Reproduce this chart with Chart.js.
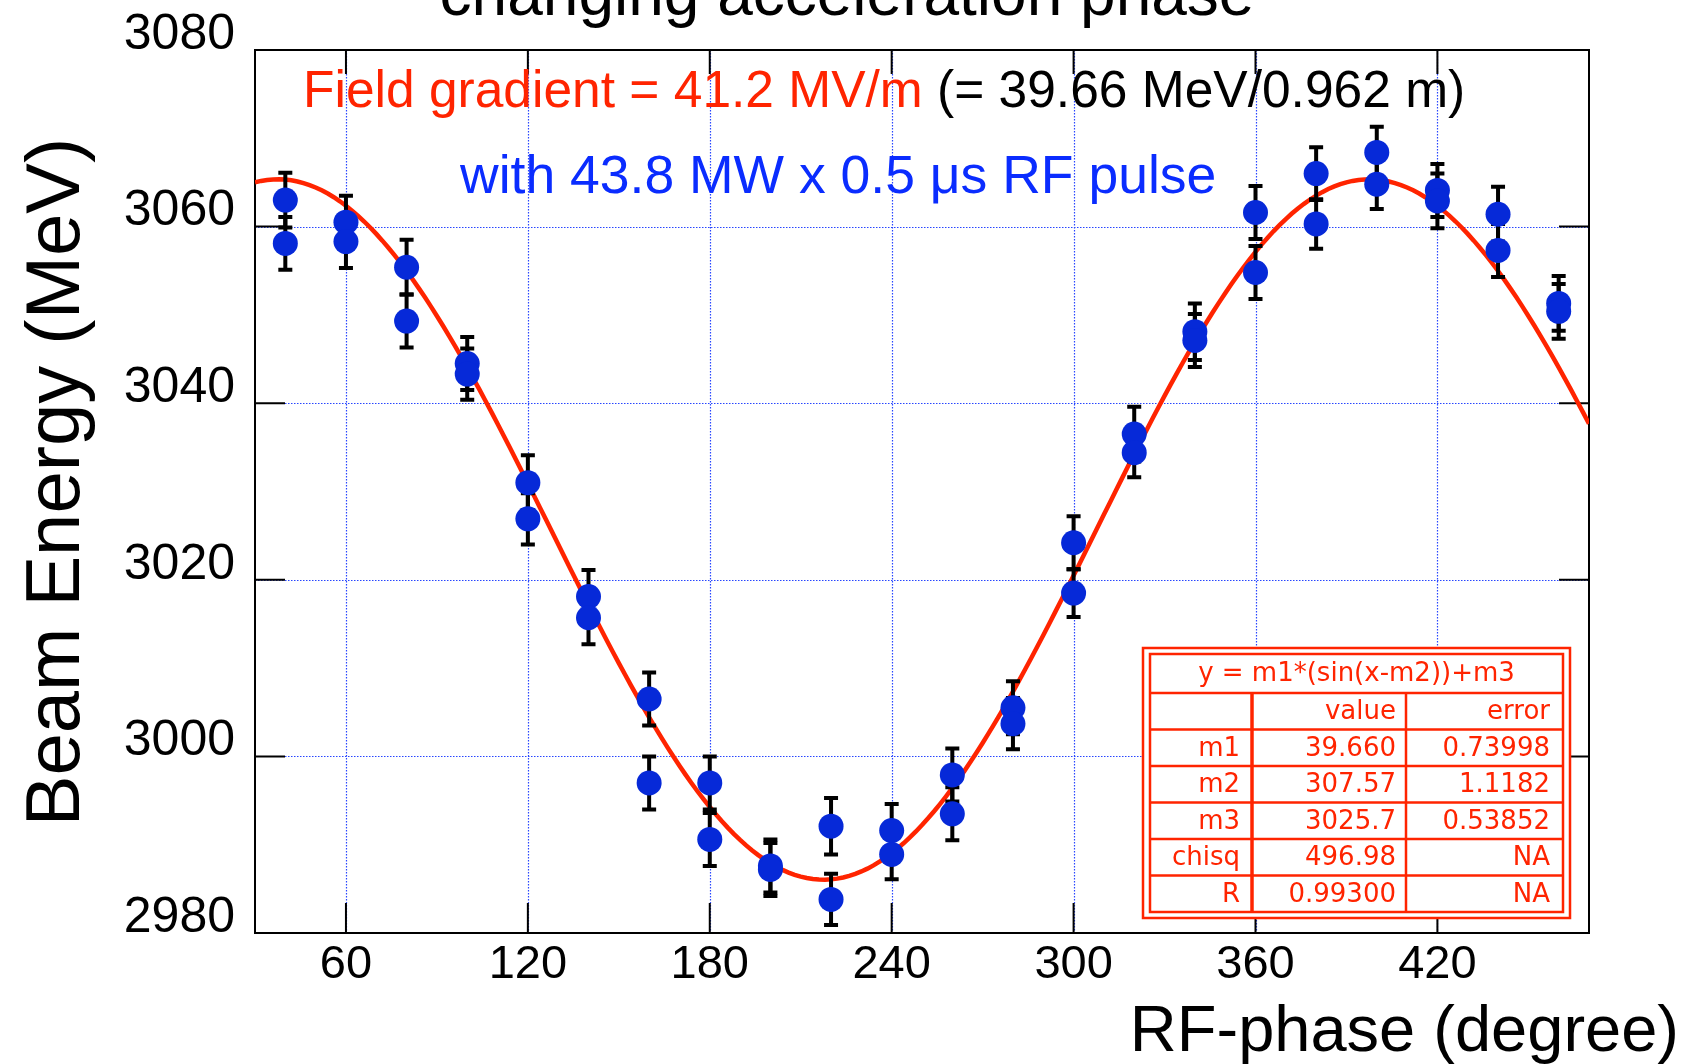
<!DOCTYPE html>
<html>
<head>
<meta charset="utf-8">
<title>Beam energy vs RF phase</title>
<script src="https://cdn.jsdelivr.net/npm/chart.js@4.4.0/dist/chart.umd.min.js"></script>
<style>
  html, body { margin: 0; padding: 0; background: #fff; }
  #wrap { width: 1690px; height: 1064px; position: relative; }
</style>
</head>
<body>
<div id="wrap"><canvas id="energyChart"></canvas></div>
<script>
// RF phase settings (degree), two energy measurements at each
const phases = [40, 60, 80, 100, 120, 140, 160, 180, 200, 220, 240, 260, 280, 300, 320, 340, 360, 380, 400, 420, 440, 460];
const energyRun1 = [3063.0, 3060.5, 3055.4, 3044.5, 3031.0, 3018.1, 3006.5, 2997.0, 2987.6, 2992.1, 2991.6, 2997.9, 3005.5, 3024.2, 3036.5, 3048.1, 3061.6, 3066.0, 3068.4, 3064.1, 3061.4, 3051.3];
const energyRun2 = [3058.1, 3058.3, 3049.3, 3043.3, 3026.9, 3015.7, 2997.0, 2990.6, 2987.2, 2983.8, 2988.9, 2993.5, 3003.7, 3018.5, 3034.4, 3047.1, 3054.8, 3060.3, 3064.8, 3062.9, 3057.3, 3050.4];
const errRun1 = [3.1, 3.0, 3.1, 3.0, 3.1, 3.0, 3.0, 3.0, 3.0, 3.2, 3.0, 3.0, 3.0, 3.0, 3.1, 3.2, 3.0, 3.0, 2.9, 3.0, 3.1, 3.1];
const errRun2 = [3.0, 3.0, 3.0, 2.9, 2.9, 3.0, 3.0, 3.0, 3.0, 2.9, 2.8, 3.0, 2.9, 2.7, 2.8, 3.0, 3.0, 2.8, 2.8, 3.1, 3.0, 3.1];

const xTicks = [60, 120, 180, 240, 300, 360, 420];
const yTicks = [2980, 3000, 3020, 3040, 3060, 3080];

// fit result table: y = m1*(sin(x-m2))+m3
const fitNames = ['m1', 'm2', 'm3', 'chisq', 'R'];
const fitValues = ['39.660', '307.57', '3025.7', '496.98', '0.99300'];
const fitErrors = ['0.73998', '1.1182', '0.53852', 'NA', 'NA'];

const m1 = parseFloat(fitValues[0]);
const m2 = parseFloat(fitValues[1]);
const m3 = parseFloat(fitValues[2]);

// fitted sine over the whole axis range
const fitCurve = [];
for (let x = 30; x <= 470; x += 2) {
  fitCurve.push({ x: x, y: m1 * Math.sin((x - m2) * Math.PI / 180) + m3 });
}

const FONT = '"Liberation Sans", Arial, Helvetica, sans-serif';
const RED = '#ff2400';
const GRID_BLUE = 'rgb(40,70,255)';

const errorBars = {
  id: 'errorBars',
  afterDatasetDraw(chart, args) {
    if (args.index !== 0) return;   // draw once, right after the fit line
    const ctx = chart.ctx;
    const xs = chart.scales.x, ys = chart.scales.y;
    ctx.save();
    ctx.strokeStyle = '#000';
    ctx.lineWidth = 4;
    chart.data.datasets.forEach(ds => {
      if (!ds.errors) return;
      ds.data.forEach((pt, i) => {
        const px = xs.getPixelForValue(pt.x);
        const top = ys.getPixelForValue(pt.y + ds.errors[i]);
        const bot = ys.getPixelForValue(pt.y - ds.errors[i]);
        ctx.beginPath();
        ctx.moveTo(px, top); ctx.lineTo(px, bot);
        ctx.moveTo(px - 7, top); ctx.lineTo(px + 7, top);
        ctx.moveTo(px - 7, bot); ctx.lineTo(px + 7, bot);
        ctx.stroke();
      });
    });
    ctx.restore();
  }
};

const frameAndText = {
  id: 'frameAndText',
  beforeDatasetsDraw(chart) {
    const { ctx, chartArea: a } = chart;
    const xs = chart.scales.x, ys = chart.scales.y;
    ctx.save();
    // dotted grid
    ctx.strokeStyle = GRID_BLUE;
    ctx.lineWidth = 1.2;
    ctx.setLineDash([1.5, 1.5]);
    ctx.beginPath();
    xTicks.forEach(v => {
      const px = Math.round(xs.getPixelForValue(v)) + 0.5;
      ctx.moveTo(px, a.top); ctx.lineTo(px, a.bottom);
    });
    yTicks.slice(1, -1).forEach(v => {
      const py = Math.round(ys.getPixelForValue(v)) + 0.5;
      ctx.moveTo(a.left, py); ctx.lineTo(a.right, py);
    });
    ctx.stroke();
    ctx.setLineDash([]);

    // tick marks pointing inwards on all four sides
    ctx.strokeStyle = '#000';
    ctx.lineWidth = 2;
    ctx.beginPath();
    xTicks.forEach(v => {
      const px = xs.getPixelForValue(v);
      ctx.moveTo(px, a.bottom); ctx.lineTo(px, a.bottom - 30);
      ctx.moveTo(px, a.top); ctx.lineTo(px, a.top + 24);
    });
    yTicks.forEach(v => {
      const py = ys.getPixelForValue(v);
      ctx.moveTo(a.left, py); ctx.lineTo(a.left + 30, py);
      ctx.moveTo(a.right, py); ctx.lineTo(a.right - 30, py);
    });
    ctx.stroke();
    ctx.strokeRect(a.left, a.top, a.right - a.left, a.bottom - a.top);

    // annotations inside the frame
    ctx.textBaseline = 'alphabetic';
    ctx.textAlign = 'left';
    ctx.font = '51.5px ' + FONT;
    const red = 'Field gradient = 41.2 MV/m';
    ctx.fillStyle = RED;
    ctx.fillText(red, 303, 107);
    ctx.fillStyle = '#000';
    ctx.fillText(' (= 39.66 MeV/0.962 m)', 303 + ctx.measureText(red).width, 107);

    ctx.font = '53.5px ' + FONT;
    ctx.fillStyle = '#0a2cff';
    ctx.fillText('with 43.8 MW x 0.5 \u03bcs RF pulse', 460, 193);
    ctx.restore();
  },
  afterDatasetsDraw(chart) {
    const ctx = chart.ctx;
    ctx.save();
    // fit parameter table
    const L = 1143, T = 648, R = 1570, B = 918;
    ctx.fillStyle = '#fff';
    ctx.fillRect(L, T, R - L, B - T);
    ctx.strokeStyle = RED;
    ctx.lineWidth = 2.5;
    ctx.strokeRect(L, T, R - L, B - T);
    const il = 1150, it = 654, ir = 1563, ib = 912;
    ctx.strokeRect(il, it, ir - il, ib - it);
    const headBottom = 693;
    const rowH = (ib - headBottom) / 6;
    ctx.beginPath();
    for (let r = 0; r < 6; r++) {
      const y = headBottom + r * rowH;
      ctx.moveTo(il, y); ctx.lineTo(ir, y);
    }
    ctx.moveTo(1406, headBottom); ctx.lineTo(1406, ib);
    ctx.stroke();
    ctx.lineWidth = 3.5;
    ctx.beginPath();
    ctx.moveTo(1252, headBottom); ctx.lineTo(1252, ib);
    ctx.stroke();

    ctx.fillStyle = RED;
    ctx.font = '26px "DejaVu Sans", Verdana, sans-serif';
    ctx.textAlign = 'center';
    ctx.fillText('y = m1*(sin(x-m2))+m3', (il + ir) / 2, 681);
    ctx.textAlign = 'right';
    const rows = [['', 'value', 'error']].concat(fitNames.map((n, i) => [n, fitValues[i], fitErrors[i]]));
    rows.forEach((row, r) => {
      const y = headBottom + r * rowH + 26;
      ctx.fillText(row[0], 1240, y);
      ctx.fillText(row[1], 1396, y);
      ctx.fillText(row[2], 1550, y);
    });
    ctx.restore();
  },
  afterDraw(chart) {
    const ctx = chart.ctx;
    ctx.save();
    ctx.fillStyle = '#000';
    ctx.textBaseline = 'alphabetic';
    ctx.font = '64px ' + FONT;
    ctx.textAlign = 'center';
    ctx.fillText('changing acceleration phase', 847, 15);

    ctx.font = '65px ' + FONT;
    ctx.textAlign = 'right';
    ctx.fillText('RF-phase (degree)', 1679, 1051);

    ctx.translate(79, 482);
    ctx.rotate(-Math.PI / 2);
    ctx.font = '76px ' + FONT;
    ctx.textAlign = 'center';
    ctx.fillText('Beam Energy (MeV)', 0, 0);
    ctx.restore();
  }
};

const pointStyle = {
  type: 'scatter',
  pointRadius: 12.5,
  pointHoverRadius: 12.5,
  pointBackgroundColor: '#0629d8',
  pointBorderWidth: 0,
  showLine: false
};

new Chart(document.getElementById('energyChart'), {
  type: 'scatter',
  data: {
    datasets: [
      {
        type: 'line',
        label: 'fit',
        data: fitCurve,
        borderColor: RED,
        borderWidth: 4.5,
        pointRadius: 0,
        tension: 0,
        fill: false,
        order: 3
      },
      Object.assign({
        label: 'run 1',
        data: phases.map((p, i) => ({ x: p, y: energyRun1[i] })),
        errors: errRun1,
        order: 2
      }, pointStyle),
      Object.assign({
        label: 'run 2',
        data: phases.map((p, i) => ({ x: p, y: energyRun2[i] })),
        errors: errRun2,
        order: 1
      }, pointStyle)
    ]
  },
  options: {
    responsive: true,
    maintainAspectRatio: false,
    animation: false,
    layout: { padding: { left: 0, top: 45, right: 101, bottom: 0 } },
    plugins: {
      legend: { display: false },
      tooltip: { enabled: false },
      title: { display: false }
    },
    scales: {
      x: {
        type: 'linear',
        min: 30,
        max: 470,
        afterBuildTicks: s => { s.ticks = xTicks.map(v => ({ value: v })); },
        afterFit: s => { s.height = 131; },
        grid: { display: false, drawTicks: false },
        border: { display: false },
        ticks: {
          font: { family: FONT, size: 47 },
          color: '#000',
          padding: 4,
          maxRotation: 0,
          autoSkip: false,
          callback: v => String(v)
        }
      },
      y: {
        type: 'linear',
        min: 2980,
        max: 3080,
        afterBuildTicks: s => { s.ticks = yTicks.map(v => ({ value: v })); },
        afterFit: s => { s.width = 255; },
        grid: { display: false, drawTicks: false },
        border: { display: false },
        ticks: {
          font: { family: FONT, size: 50 },
          color: '#000',
          padding: 20,
          labelOffset: -15,
          autoSkip: false,
          callback: v => String(v)
        }
      }
    }
  },
  plugins: [errorBars, frameAndText]
});
</script>
</body>
</html>
